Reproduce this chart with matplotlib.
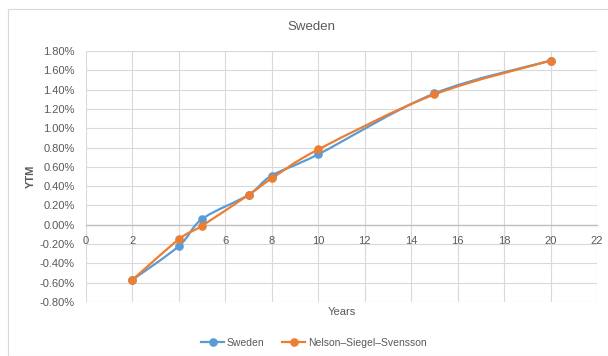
import matplotlib
matplotlib.use("Agg")
import matplotlib.pyplot as plt
from matplotlib.path import Path
from matplotlib.patches import PathPatch, Rectangle
from matplotlib.lines import Line2D
from matplotlib.ticker import FuncFormatter, MultipleLocator
import numpy as np

plt.rcParams['font.family'] = ['Liberation Sans', 'DejaVu Sans']

years = [2, 4, 5, 7, 8, 10, 15, 20]
sweden = [-0.57, -0.22, 0.06, 0.31, 0.51, 0.73, 1.36, 1.70]
nss = [-0.57, -0.15, -0.01, 0.31, 0.48, 0.78, 1.35, 1.70]

series_names = ["Sweden", "Nelson\u2013Siegel\u2013Svensson"]
series_colors = ["#5B9BD5", "#ED7D31"]
text_color = "#595959"
grid_color = "#D9D9D9"


def smooth_path(x, y):
    """Cubic Bezier path through the points (Catmull-Rom style smoothing)."""
    pts = np.column_stack([x, y]).astype(float)
    n = len(pts)
    verts = [pts[0]]
    codes = [Path.MOVETO]
    for i in range(n - 1):
        p0 = pts[i - 1] if i > 0 else pts[i]
        p1 = pts[i]
        p2 = pts[i + 1]
        p3 = pts[i + 2] if i + 2 < n else pts[i + 1]
        c1 = p1 + (p2 - p0) / 6.0
        c2 = p2 - (p3 - p1) / 6.0
        verts += [c1, c2, p2]
        codes += [Path.CURVE4] * 3
    return Path(verts, codes)


W, H = 608, 356
fig = plt.figure(figsize=(W / 100, H / 100), dpi=100)
fig.patch.set_facecolor("white")
fig.patches.append(Rectangle((8 / W, 0), 1, 1 - 9 / H, transform=fig.transFigure,
                             fill=False, edgecolor=grid_color, linewidth=0.8))

# plot area in pixels: x 86..597, y 51..302
ax = fig.add_axes([86 / W, 1 - 302 / H, 511 / W, 251 / H])
ax.set_xlim(0, 22)
ax.set_ylim(-0.8, 1.8)
ax.xaxis.set_major_locator(MultipleLocator(2))
ax.yaxis.set_major_locator(MultipleLocator(0.2))
ax.yaxis.set_major_formatter(FuncFormatter(lambda v, p: f"{v:.2f}%"))
ax.grid(True, color=grid_color, linewidth=0.8)
ax.set_axisbelow(True)

for s in ["top", "right", "left"]:
    ax.spines[s].set_visible(False)
ax.spines["bottom"].set_position(("data", 0))
ax.spines["bottom"].set_color("#BFBFBF")
ax.spines["bottom"].set_linewidth(1.0)
ax.tick_params(axis="both", length=0, labelsize=8, colors=text_color)
ax.tick_params(axis="x", pad=8)
ax.tick_params(axis="y", pad=8)

handles = []
for vals, name, col in zip([sweden, nss], series_names, series_colors):
    ax.add_patch(PathPatch(smooth_path(years, vals), facecolor="none",
                           edgecolor=col, linewidth=1.6, zorder=3))
    ax.plot(years, vals, linestyle="none", marker="o", markersize=5.2,
            color=col, zorder=4)
    handles.append(Line2D([], [], color=col, linewidth=1.6, marker="o",
                          markersize=5.2, label=name))

fig.text(311 / W, 1 - 27 / H, "Sweden", fontsize=9.5, color=text_color,
         ha="center", va="center")

ax.set_xlabel("Years", fontsize=8, color=text_color)
ax.xaxis.label.set_va("center")
ax.xaxis.set_label_coords(0.5, -10 / 251)
ax.set_ylabel("YTM", fontsize=8, color=text_color, fontweight="bold")
ax.yaxis.label.set_va("center")
ax.yaxis.set_label_coords(-(86 - 31) / 511, 0.5)

fig.legend(handles=handles, loc="center", bbox_to_anchor=(314 / W, 1 - 343 / H),
           ncol=2, frameon=False, fontsize=7.5, labelcolor=text_color,
           handlelength=2.2, columnspacing=1.7, handletextpad=0.25)

fig.savefig("out.png", dpi=100)
